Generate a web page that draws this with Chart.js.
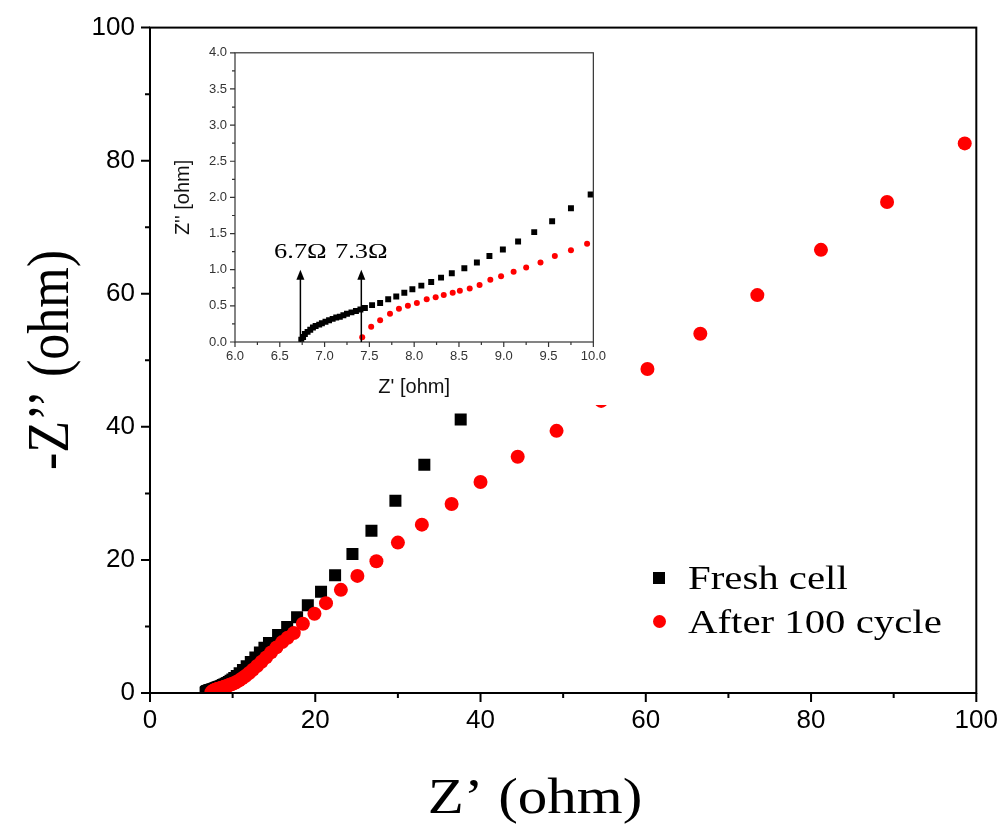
<!DOCTYPE html>
<html>
<head>
<meta charset="utf-8">
<script src="https://cdn.jsdelivr.net/npm/chart.js@4.4.1/dist/chart.umd.min.js"></script>
<style>
  html, body { margin: 0; padding: 0; background: #fff; }
  #wrap { position: relative; width: 1004px; height: 828px; overflow: hidden; }
  #main { position: absolute; left: 0; top: -3px; }
  #inset { position: absolute; left: 160px; top: 37px; background: #fff; }
  .leg-row { position: absolute; left: 653px; height: 40px; line-height: 40px;
    font-family: 'Liberation Serif', 'Times New Roman', serif; font-size: 34px; color: #000; white-space: nowrap; }
  .mk { position: absolute; left: 0; }
  .sq { top: 14px; width: 12px; height: 12px; background: #000; }
  .dot { top: 13px; width: 13px; height: 13px; border-radius: 50%; background: #ff0000; }
  .txt { position: absolute; left: 35px; top: 0; display: inline-block; transform: scaleX(1.2); transform-origin: left center; }
</style>
</head>
<body>
<div id="wrap">
  <canvas id="main" width="1010" height="831"></canvas>
  <canvas id="inset" width="453" height="368"></canvas>
  <div class="leg-row" style="top:558px"><span class="mk sq"></span><span class="txt" id="leg0"></span></div>
  <div class="leg-row" style="top:602px"><span class="mk dot"></span><span class="txt" id="leg1"></span></div>
</div>
<script>
// Nyquist data: Z' (ohm) and -Z'' (ohm)
const freshZre = [6.74, 6.76, 6.78, 6.81, 6.84, 6.87, 6.90, 6.94, 6.97, 7.01, 7.05, 7.09, 7.13, 7.17, 7.21, 7.25,
  7.30, 7.35, 7.40, 7.45, 7.53, 7.62, 7.71, 7.80, 7.89, 7.98, 8.08, 8.19, 8.30, 8.42, 8.56, 8.70, 8.84, 8.99,
  9.16, 9.34, 9.54, 9.75, 9.97, 10.2, 10.5, 10.85, 11.25, 11.7, 12.2, 12.75, 13.3, 13.85, 14.4, 15.5, 16.6,
  17.8, 19.1, 20.7, 22.4, 24.5, 26.8, 29.7, 33.2, 37.6];
const freshZim = [0.03, 0.07, 0.11, 0.14, 0.17, 0.20, 0.22, 0.24, 0.26, 0.28, 0.30, 0.32, 0.34, 0.35, 0.37, 0.39,
  0.41, 0.43, 0.45, 0.47, 0.51, 0.54, 0.59, 0.63, 0.68, 0.73, 0.78, 0.83, 0.89, 0.95, 1.02, 1.10, 1.19, 1.28,
  1.39, 1.52, 1.67, 1.85, 2.04, 2.25, 2.55, 2.95, 3.45, 4.0, 4.65, 5.35, 6.1, 6.8, 7.5, 8.7, 9.9,
  11.4, 13.2, 15.2, 17.7, 20.9, 24.4, 28.9, 34.3, 41.1];

const cycledZre = [7.42, 7.52, 7.62, 7.73, 7.83, 7.93, 8.03, 8.14, 8.24, 8.33, 8.43, 8.51, 8.62, 8.73, 8.85, 8.97,
  9.11, 9.25, 9.41, 9.57, 9.75, 9.93, 10.15, 10.45, 10.8, 11.15, 11.55, 12.0, 12.45, 12.95, 13.5, 14.05, 14.65,
  15.3, 16.0, 16.65, 17.4, 18.5, 19.9, 21.3, 23.1, 25.1, 27.4, 30.0, 32.9, 36.5, 40.0, 44.5, 49.2, 54.6, 60.2,
  66.6, 73.5, 81.2, 89.2, 98.6];
const cycledZim = [0.065, 0.21, 0.30, 0.39, 0.46, 0.50, 0.54, 0.59, 0.62, 0.65, 0.68, 0.71, 0.74, 0.79, 0.86, 0.91,
  0.97, 1.03, 1.10, 1.19, 1.27, 1.36, 1.45, 1.65, 1.9, 2.2, 2.55, 3.0, 3.5, 4.05, 4.7, 5.35, 6.1,
  6.85, 7.65, 8.3, 9.0, 10.4, 11.9, 13.5, 15.5, 17.6, 19.8, 22.6, 25.3, 28.4, 31.7, 35.5, 39.4, 43.9, 48.7,
  54.0, 59.8, 66.6, 73.8, 82.6];

const seriesNames = ['Fresh cell', 'After 100 cycle'];
const mainLabelTicks = [0, 20, 40, 60, 80, 100];
const arrowAt = [6.73, 7.41];
const arrowTop = 1.0;
const arrowLabels = ['6.7\u03A9', '7.3\u03A9'];

const SANS = "'Liberation Sans', Arial, sans-serif";
const SERIF = "'Liberation Serif', 'Times New Roman', serif";

const toPoints = (xs, ys) => xs.map((x, i) => ({ x, y: ys[i] }));

// box frame plus outward major/minor tick marks
const axisFrame = {
  id: 'axisFrame',
  afterDatasetsDraw(chart, args, o) {
    const { ctx, chartArea: a, scales: { x, y } } = chart;
    ctx.save();
    ctx.strokeStyle = o.color;
    ctx.lineWidth = o.lineWidth;
    ctx.strokeRect(a.left, a.top, a.right - a.left, a.bottom - a.top);
    ctx.beginPath();
    const nx = Math.round((x.max - x.min) / o.minorX);
    for (let i = 0; i <= nx; i++) {
      const px = x.getPixelForValue(x.min + i * o.minorX);
      const len = i % 2 === 0 ? o.major : o.minor;
      ctx.moveTo(px, a.bottom);
      ctx.lineTo(px, a.bottom + len);
    }
    const ny = Math.round((y.max - y.min) / o.minorY);
    for (let i = 0; i <= ny; i++) {
      const py = y.getPixelForValue(y.min + i * o.minorY);
      const len = i % 2 === 0 ? o.major : o.minor;
      ctx.moveTo(a.left, py);
      ctx.lineTo(a.left - len, py);
    }
    ctx.stroke();
    ctx.restore();
  }
};

// axis titles for the main plot (stretched like the original)
const freeText = {
  id: 'freeText',
  afterDraw(chart, args, o) {
    const ctx = chart.ctx;
    o.items.forEach(t => {
      ctx.save();
      ctx.translate(t.x, t.y);
      ctx.rotate(t.rotate || 0);
      ctx.scale(t.sx || 1, t.sy || 1);
      ctx.font = t.font;
      ctx.fillStyle = '#000';
      ctx.textAlign = 'center';
      ctx.textBaseline = 'middle';
      ctx.fillText(t.text, 0, 0);
      ctx.restore();
    });
  }
};

// arrows marking the intercepts in the inset
const arrows = {
  id: 'arrows',
  afterDatasetsDraw(chart, args, o) {
    const { ctx, scales: { x, y } } = chart;
    ctx.save();
    ctx.strokeStyle = '#000';
    ctx.fillStyle = '#000';
    ctx.lineWidth = 1.5;
    arrowAt.forEach((v, i) => {
      const px = x.getPixelForValue(v);
      const y0 = y.getPixelForValue(0);
      const y1 = y.getPixelForValue(arrowTop);
      ctx.beginPath();
      ctx.moveTo(px, y0);
      ctx.lineTo(px, y1 + 8);
      ctx.stroke();
      ctx.beginPath();
      ctx.moveTo(px, y1);
      ctx.lineTo(px - 4, y1 + 10);
      ctx.lineTo(px + 4, y1 + 10);
      ctx.closePath();
      ctx.fill();
      ctx.save();
      ctx.translate(px, y1 - 12);
      ctx.scale(1.2, 1);
      ctx.font = '22px ' + SERIF;
      ctx.textAlign = 'center';
      ctx.textBaseline = 'alphabetic';
      ctx.fillText(arrowLabels[i], 0, 0);
      ctx.restore();
    });
    ctx.restore();
  }
};

const mainTick = { color: '#000', font: { family: SANS, size: 26 }, autoSkip: false, maxRotation: 0 };

new Chart(document.getElementById('main'), {
  type: 'scatter',
  data: {
    datasets: [
      { label: seriesNames[0], data: toPoints(freshZre, freshZim), pointStyle: 'rect',
        pointRadius: 8.5, backgroundColor: '#000', borderWidth: 0, order: 1 },
      { label: seriesNames[1], data: toPoints(cycledZre, cycledZim), pointStyle: 'circle',
        pointRadius: 7, backgroundColor: '#ff0000', borderWidth: 0, order: 0 }
    ]
  },
  options: {
    responsive: false,
    animation: false,
    devicePixelRatio: 1,
    layout: { padding: { top: 26, right: 22, left: 0, bottom: 0 } },
    plugins: {
      legend: { display: false },
      tooltip: { enabled: false },
      axisFrame: { color: '#000', lineWidth: 2, minorX: 10, minorY: 10, major: 9, minor: 5 },
      freeText: {
        items: [
          { text: 'Z\u2019 (ohm)', x: 535, y: 803, sx: 1.18, font: '50px ' + SERIF },
          { text: '-Z\u2019\u2019 (ohm)', x: 52, y: 363, rotate: -Math.PI / 2, sy: 1.15, font: '52px ' + SERIF }
        ]
      }
    },
    scales: {
      x: {
        type: 'linear', min: 0, max: 100,
        afterFit: s => { s.height = 135; },
        grid: { display: false, drawTicks: false },
        border: { display: false },
        ticks: { ...mainTick, stepSize: 10, padding: 12,
          callback: v => mainLabelTicks.includes(v) ? v : '' }
      },
      y: {
        type: 'linear', min: 0, max: 100,
        afterFit: s => { s.width = 150; },
        grid: { display: false, drawTicks: false },
        border: { display: false },
        ticks: { ...mainTick, stepSize: 10, padding: 15,
          callback: v => mainLabelTicks.includes(v) ? v : '' }
      }
    }
  },
  plugins: [axisFrame, freeText]
});

const insetTick = { color: '#333', font: { family: SANS, size: 13 }, autoSkip: false, maxRotation: 0 };

new Chart(document.getElementById('inset'), {
  type: 'scatter',
  data: {
    datasets: [
      { label: seriesNames[0], data: toPoints(freshZre, freshZim), pointStyle: 'rect',
        pointRadius: 4.2, backgroundColor: '#000', borderWidth: 0 },
      { label: seriesNames[1], data: toPoints(cycledZre, cycledZim), pointStyle: 'circle',
        pointRadius: 3, backgroundColor: '#ff0000', borderWidth: 0 }
    ]
  },
  options: {
    responsive: false,
    animation: false,
    devicePixelRatio: 1,
    layout: { padding: { top: 11, right: 14, left: 0, bottom: 0 } },
    plugins: {
      legend: { display: false },
      tooltip: { enabled: false },
      axisFrame: { color: '#333', lineWidth: 1.2, minorX: 0.25, minorY: 0.25, major: 5, minor: 3 }
    },
    scales: {
      x: {
        type: 'linear', min: 6, max: 10,
        afterFit: s => { s.height = 63; },
        grid: { display: false, drawTicks: false },
        border: { display: false },
        ticks: { ...insetTick, stepSize: 0.5, padding: 7, callback: v => v.toFixed(1) },
        title: { display: true, text: "Z' [ohm]", color: '#111',
          font: { family: SANS, size: 20 }, padding: { bottom: 6 } }
      },
      y: {
        type: 'linear', min: 0, max: 4,
        afterFit: s => { s.width = 75; },
        grid: { display: false, drawTicks: false },
        border: { display: false },
        ticks: { ...insetTick, stepSize: 0.5, padding: 8, callback: v => v.toFixed(1) },
        title: { display: true, text: "Z'' [ohm]", color: '#111',
          font: { family: SANS, size: 20 }, padding: { top: 11 } }
      }
    }
  },
  plugins: [axisFrame, arrows]
});

document.getElementById('leg0').textContent = seriesNames[0];
document.getElementById('leg1').textContent = seriesNames[1];
</script>
</body>
</html>
